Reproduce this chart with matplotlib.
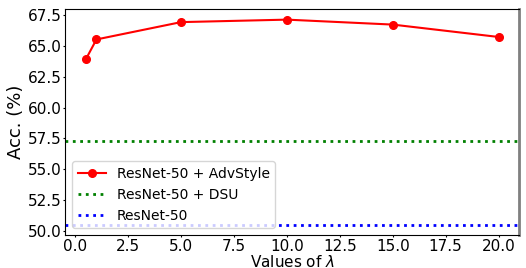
import matplotlib
matplotlib.use("Agg")
import matplotlib.pyplot as plt

# values of lambda and accuracy
lambdas = [0.5, 1, 5, 10, 15, 20]
acc_advstyle = [63.9, 65.5, 66.9, 67.1, 66.7, 65.7]
acc_dsu = 57.3
acc_base = 50.5
yticks = [50.0, 52.5, 55.0, 57.5, 60.0, 62.5, 65.0, 67.5]

fig, ax = plt.subplots(figsize=(5.26, 2.68), dpi=100)

ax.plot(lambdas, acc_advstyle, color="red", marker="o", markersize=5.5,
        linewidth=1.5, label="ResNet-50 + AdvStyle")
ax.axhline(acc_dsu, color="green", linestyle=":", linewidth=2, label="ResNet-50 + DSU")
ax.axhline(acc_base, color="blue", linestyle=":", linewidth=2, label="ResNet-50")

ax.set_xlim(-0.475, 20.975)
ax.set_ylim(49.7, 67.95)
ax.set_yticks(yticks)
ax.set_xticks([0, 2.5, 5, 7.5, 10, 12.5, 15, 17.5, 20])
ax.tick_params(labelsize=11, length=1.5, pad=1)
ax.set_xlabel(r"Values of $\lambda$", fontsize=11, labelpad=0)
ax.set_ylabel("Acc. (%)", fontsize=13, labelpad=2)
ax.spines["right"].set_color("gray")
ax.spines["right"].set_linewidth(2)

ax.legend(loc="lower left", bbox_to_anchor=(0.0, 0.0), fontsize=10)

plt.subplots_adjust(left=0.124, right=0.987, top=0.966, bottom=0.123)
plt.savefig("out.png", dpi=100)
